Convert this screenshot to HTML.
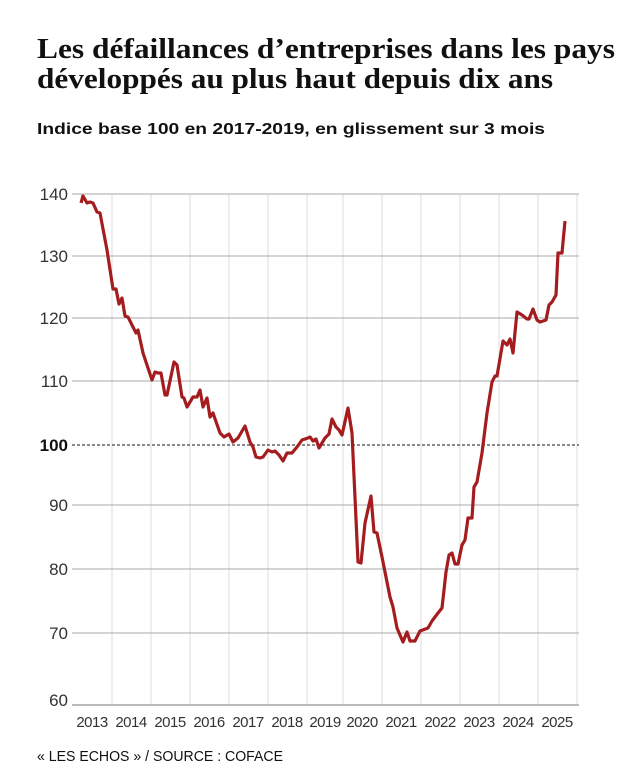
<!DOCTYPE html>
<html><head><meta charset="utf-8"><style>
body{margin:0;background:#fff;width:620px;height:775px;overflow:hidden}
svg{display:block}
</style></head><body>
<svg width="620" height="775" xmlns="http://www.w3.org/2000/svg">
<text x="37" y="58" font-family="Liberation Serif, serif" font-weight="bold" font-size="29" fill="#111" textLength="578" lengthAdjust="spacingAndGlyphs">Les défaillances d’entreprises dans les pays</text>
<text x="37" y="88" font-family="Liberation Serif, serif" font-weight="bold" font-size="29" fill="#111" textLength="516" lengthAdjust="spacingAndGlyphs">développés au plus haut depuis dix ans</text>
<text x="37" y="134" font-family="Liberation Sans, sans-serif" font-weight="bold" font-size="16" fill="#111" textLength="508" lengthAdjust="spacingAndGlyphs">Indice base 100 en 2017-2019, en glissement sur 3 mois</text>
<g stroke="#ddd" stroke-width="1">
<line x1="112" y1="194" x2="112" y2="705"/><line x1="151" y1="194" x2="151" y2="705"/><line x1="190" y1="194" x2="190" y2="705"/><line x1="229" y1="194" x2="229" y2="705"/><line x1="268" y1="194" x2="268" y2="705"/><line x1="307" y1="194" x2="307" y2="705"/><line x1="343" y1="194" x2="343" y2="705"/><line x1="382" y1="194" x2="382" y2="705"/><line x1="421" y1="194" x2="421" y2="705"/><line x1="460" y1="194" x2="460" y2="705"/><line x1="499" y1="194" x2="499" y2="705"/><line x1="538" y1="194" x2="538" y2="705"/><line x1="577" y1="194" x2="577" y2="705"/>
</g>
<g stroke="#aaa" stroke-width="1">
<line x1="72" y1="194" x2="579" y2="194"/><line x1="72" y1="256" x2="579" y2="256"/><line x1="72" y1="318" x2="579" y2="318"/><line x1="72" y1="381" x2="579" y2="381"/><line x1="72" y1="505" x2="579" y2="505"/><line x1="72" y1="569" x2="579" y2="569"/><line x1="72" y1="633" x2="579" y2="633"/>
</g>
<line x1="72" y1="705" x2="579" y2="705" stroke="#bbb" stroke-width="2"/>
<line x1="72" y1="445" x2="579" y2="445" stroke="#444" stroke-width="1.3" stroke-dasharray="3,2"/>
<g font-family="Liberation Sans, sans-serif" font-size="17" fill="#333" text-anchor="end">
<text x="68" y="200">140</text><text x="68" y="262">130</text><text x="68" y="324">120</text><text x="68" y="387">110</text><text x="68" y="451" font-weight="bold" fill="#111">100</text><text x="68" y="511">90</text><text x="68" y="575">80</text><text x="68" y="639">70</text><text x="68" y="706">60</text>
</g>
<g font-family="Liberation Sans, sans-serif" font-size="15" fill="#333" text-anchor="middle" letter-spacing="-0.5">
<text x="92" y="727">2013</text><text x="131" y="727">2014</text><text x="170" y="727">2015</text><text x="209" y="727">2016</text><text x="248" y="727">2017</text><text x="287" y="727">2018</text><text x="325" y="727">2019</text><text x="362" y="727">2020</text><text x="401" y="727">2021</text><text x="440" y="727">2022</text><text x="479" y="727">2023</text><text x="518" y="727">2024</text><text x="557" y="727">2025</text>
</g>
<text x="37" y="761" font-family="Liberation Sans, sans-serif" font-size="14.5" fill="#111" textLength="246" lengthAdjust="spacingAndGlyphs">« LES ECHOS » / SOURCE : COFACE</text>
<polyline fill="none" stroke="#a51c1f" stroke-width="3.2" stroke-linejoin="round" points="81,203 83,196 87,203 90,202 93,203 97,212 100,213 107,250 113,289 116,289 119,304 122,298 125,316 128,317 136,333 138,330 143,353 152,380 155,372 158,373 161,373 165,395 167,395 174,362 177,365 182,397 184,398 187,407 193,397 197,397 200,390 203,407 207,398 210,417 213,413 220,433 224,437 229,434 233,442 238,438 245,426 250,442 253,447 256,457 260,458 263,457 268,450 272,452 275,451 279,455 283,461 287,453 292,453 297,447 302,440 308,438 310,437 313,441 316,439 319,448 325,438 329,434 332,419 336,427 339,430 342,435 348,408 352,433 358,562 361,563 365,523 371,496 374,532 377,533 382,557 390,597 393,607 397,628 403,642 407,632 410,641 415,641 420,631 428,628 432,621 438,613 442,608 446,572 449,555 452,553 455,564 458,564 462,545 465,540 468,518 472,518 474,487 477,482 482,453 487,413 492,382 495,376 497,376 503,341 507,345 510,339 513,353 517,312 522,315 527,319 529,319 533,309 537,320 540,322 546,320 549,305 552,302 556,295 558,253 562,253 565,221"/>
</svg>
</body></html>
